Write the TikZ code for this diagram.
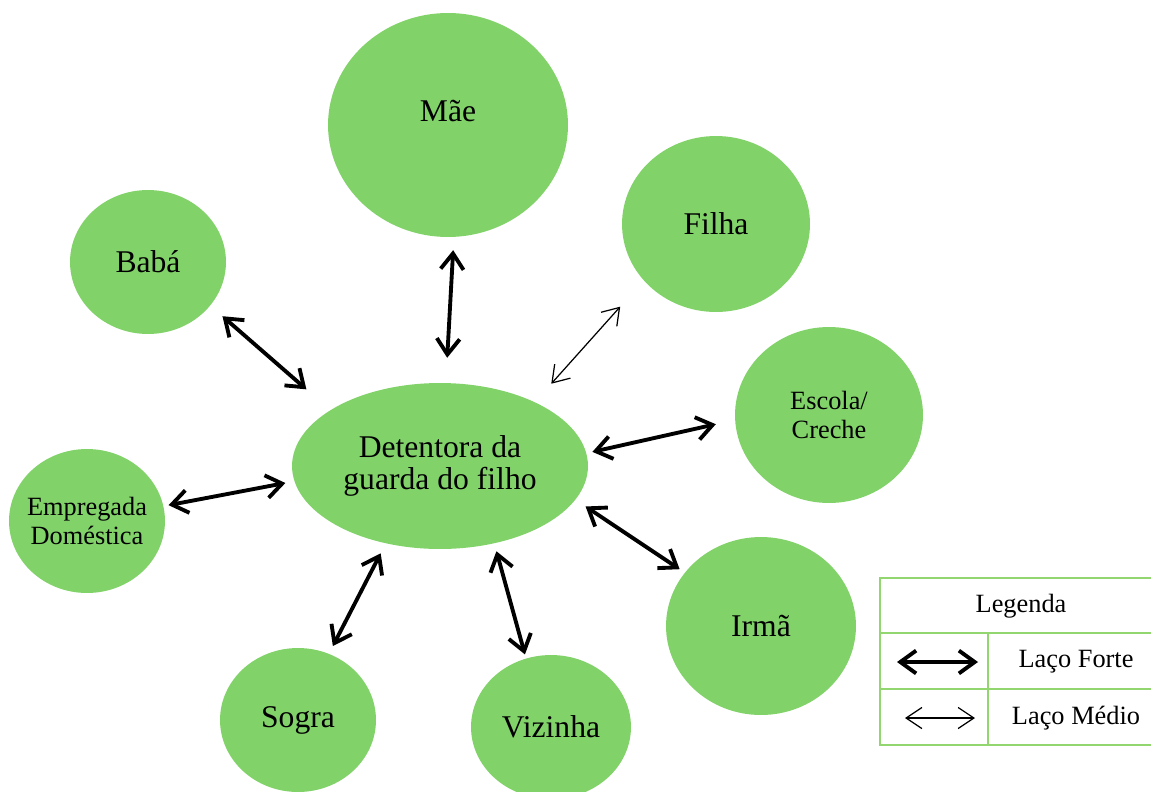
\documentclass[tikz,border=0pt]{standalone}
\usepackage{fontspec}
\setmainfont{Liberation Serif}
\usetikzlibrary{shapes.geometric,arrows.meta}
\definecolor{bolhaverde}{RGB}{130,210,106}
\definecolor{linhaverde}{RGB}{146,214,112}

\begin{document}
\begin{tikzpicture}[x=0.02cm,y=-0.02cm,
    bolha/.style={ellipse,fill=bolhaverde,inner sep=0pt,align=center,font=\fontsize{18}{18}\selectfont},
    bolhap/.style={bolha,font=\fontsize{15}{17}\selectfont},
    forte/.style={{Straight Barb[length=9pt,width=13pt]}-{Straight Barb[length=9pt,width=13pt]},line width=2.2pt},
    medio/.style={{Straight Barb[length=9pt,width=12pt]}-{Straight Barb[length=9pt,width=12pt]},line width=0.7pt},
    legtxt/.style={font=\fontsize{15}{17}\selectfont}]
    \useasboundingbox (0,0) rectangle (1151,791);

    \node[bolha,minimum width=4.8cm,minimum height=4.48cm] (mae) at (448,125) {\raisebox{8pt}[\height][\depth]{Mãe}};
    \node[bolha,minimum width=5.92cm,minimum height=3.32cm] (det) at (440,466) {Detentora da\\guarda do filho};
    \node[bolhap,minimum width=3.76cm,minimum height=3.52cm] (escola) at (829,415) {Escola/\\Creche};
    \node[bolhap,inner xsep=-0.6cm,minimum width=3.12cm,minimum height=2.88cm] (empregada) at (87,521) {Empregada\\Doméstica};
    \foreach \nome/\x/\y/\w/\h/\txt in {filha/716/224/3.76/3.52/Filha,
                                         baba/148/262/3.12/2.88/Babá,
                                         irma/761/626/3.8/3.56/Irmã,
                                         sogra/298/720/3.12/2.88/Sogra,
                                         vizinha/551/727/3.2/2.88/Vizinha}
      \node[bolha,minimum width=\w cm,minimum height=\h cm] (\nome) at (\x,\y) {\txt};

    \foreach \a/\as/\ga/\b/\bs/\gb in {mae/-87.6/0.26/det/86/0.5,
                                       baba/-35/0.32/det/153/0.63,
                                       escola/183/0.39/det/5.4/0.12,
                                       empregada/11.2/0.1/det/186/0.18,
                                       det/-14.3/0.24/irma/145.3/0.12,
                                       det/-125.4/0.22/sogra/65.6/0.17,
                                       det/-55.2/0.16/vizinha/110/0.08}
      \draw[forte,shorten <=\ga cm,shorten >=\gb cm] (\a.\as) -- (\b.\bs);
    \draw[medio,shorten <=0.7cm,shorten >=0.49cm] (filha.218.6) -- (det.34);

    \draw[linhaverde,line width=1.1pt] (880,578) rectangle (1162,745);
    \draw[linhaverde,line width=1.1pt] (880,633) -- (1162,633) (880,689) -- (1162,689) (988,633) -- (988,745);
    \node[legtxt] (legenda) at (1021,606) {Legenda};
    \node[legtxt] (lforte) at (1076,662) {Laço Forte};
    \node[legtxt] (lmedio) at (1076,718) {Laço Médio};
    \coordinate (f1) at (897,662);
    \coordinate (f2) at (978,662);
    \coordinate (m1) at (905,718);
    \coordinate (m2) at (975,718);
    \draw[forte] (f1) -- (f2);
    \draw[medio] (m1) -- (m2);
\end{tikzpicture}
\end{document}
